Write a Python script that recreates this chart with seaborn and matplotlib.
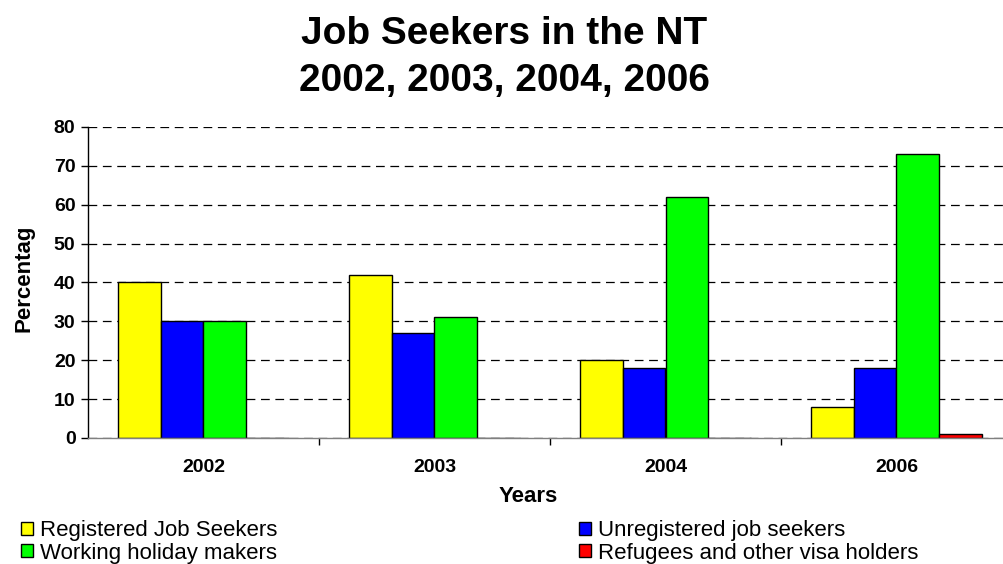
import matplotlib
matplotlib.use("Agg")
import matplotlib.pyplot as plt
import seaborn as sns
import pandas as pd
from matplotlib.ticker import FixedLocator, NullFormatter
from matplotlib.patches import Patch

years = ["2002", "2003", "2004", "2006"]
series_names = ["Registered Job Seekers", "Unregistered job seekers",
                "Working holiday makers", "Refugees and other visa holders"]
registered = [40, 42, 20, 8]
unregistered = [30, 27, 18, 18]
working_holiday = [30, 31, 62, 73]
refugees = [0, 0, 0, 1]
colors = ["#FFFF00", "#0000FF", "#00FF00", "#FF0000"]

rows = []
for name, vals in zip(series_names, [registered, unregistered, working_holiday, refugees]):
    for y, v in zip(years, vals):
        rows.append({"Year": y, "Series": name, "Value": v})
df = pd.DataFrame(rows)

sns.set_theme(style="white")
plt.rcParams['font.family'] = ['Liberation Sans', 'DejaVu Sans']
plt.rcParams['text.color'] = 'black'
plt.rcParams['axes.labelcolor'] = 'black'
plt.rcParams['xtick.color'] = 'black'
plt.rcParams['ytick.color'] = 'black'

fig = plt.figure(figsize=(10.04, 5.64), dpi=100)
ax = fig.add_axes([88/1004, (564-438)/564, 915/1004, (438-127)/564])

sns.barplot(data=df, x="Year", y="Value", hue="Series", hue_order=series_names,
            palette=colors, width=0.74, edgecolor="black", linewidth=1.0,
            saturation=1, ax=ax, legend=False)

ax.set_ylim(0, 80)
ax.set_xlim(-0.5, -0.5 + 915/231)
ax.set_yticks(range(0, 81, 10))
ax.yaxis.grid(True, linestyle=(0, (7, 4.5)), color="black", linewidth=0.9)
ax.set_axisbelow(True)
for s in ["top", "right"]:
    ax.spines[s].set_visible(False)
ax.spines["left"].set_color("black")
ax.spines["left"].set_linewidth(1.0)
ax.spines["bottom"].set_color("#808080")
ax.spines["bottom"].set_linewidth(1.0)

ax.tick_params(axis="y", which="major", left=True, length=5, width=1, color="black",
               labelsize=14, pad=4)
ax.tick_params(axis="x", which="major", bottom=False, length=0, labelsize=14, pad=15)
ax.xaxis.set_minor_locator(FixedLocator([0.5, 1.5, 2.5]))
ax.xaxis.set_minor_formatter(NullFormatter())
ax.tick_params(axis="x", which="minor", bottom=True, length=5, width=1, color="black")
for lab in ax.get_xticklabels() + ax.get_yticklabels():
    lab.set_fontweight("bold")

ax.set_xlabel("Years", fontsize=16, fontweight="bold")
ax.xaxis.set_label_coords((528-88)/915, (438-486)/311)
ax.set_ylabel("Percentag", fontsize=16, fontweight="bold")
ax.yaxis.set_label_coords((34-88)/915, (438-278)/311)

fig.text(0.502, 0.94, "Job Seekers in the NT", ha="center", va="center",
         fontsize=28, fontweight="bold")
fig.text(0.502, 0.856, "2002, 2003, 2004, 2006", ha="center", va="center",
         fontsize=28, fontweight="bold")

handles = [Patch(facecolor=c, edgecolor="black", linewidth=1.0) for c in colors]
order = [0, 2, 1, 3]
fig.legend([handles[i] for i in order], [series_names[i] for i in order],
           loc="lower left", bbox_to_anchor=(0.012, -0.015), ncol=2, frameon=False,
           fontsize=16, handlelength=0.54, handleheight=0.54, handletextpad=0.3,
           labelspacing=0.05, columnspacing=13.6, borderaxespad=0.0)

fig.savefig("out.png", dpi=100)
